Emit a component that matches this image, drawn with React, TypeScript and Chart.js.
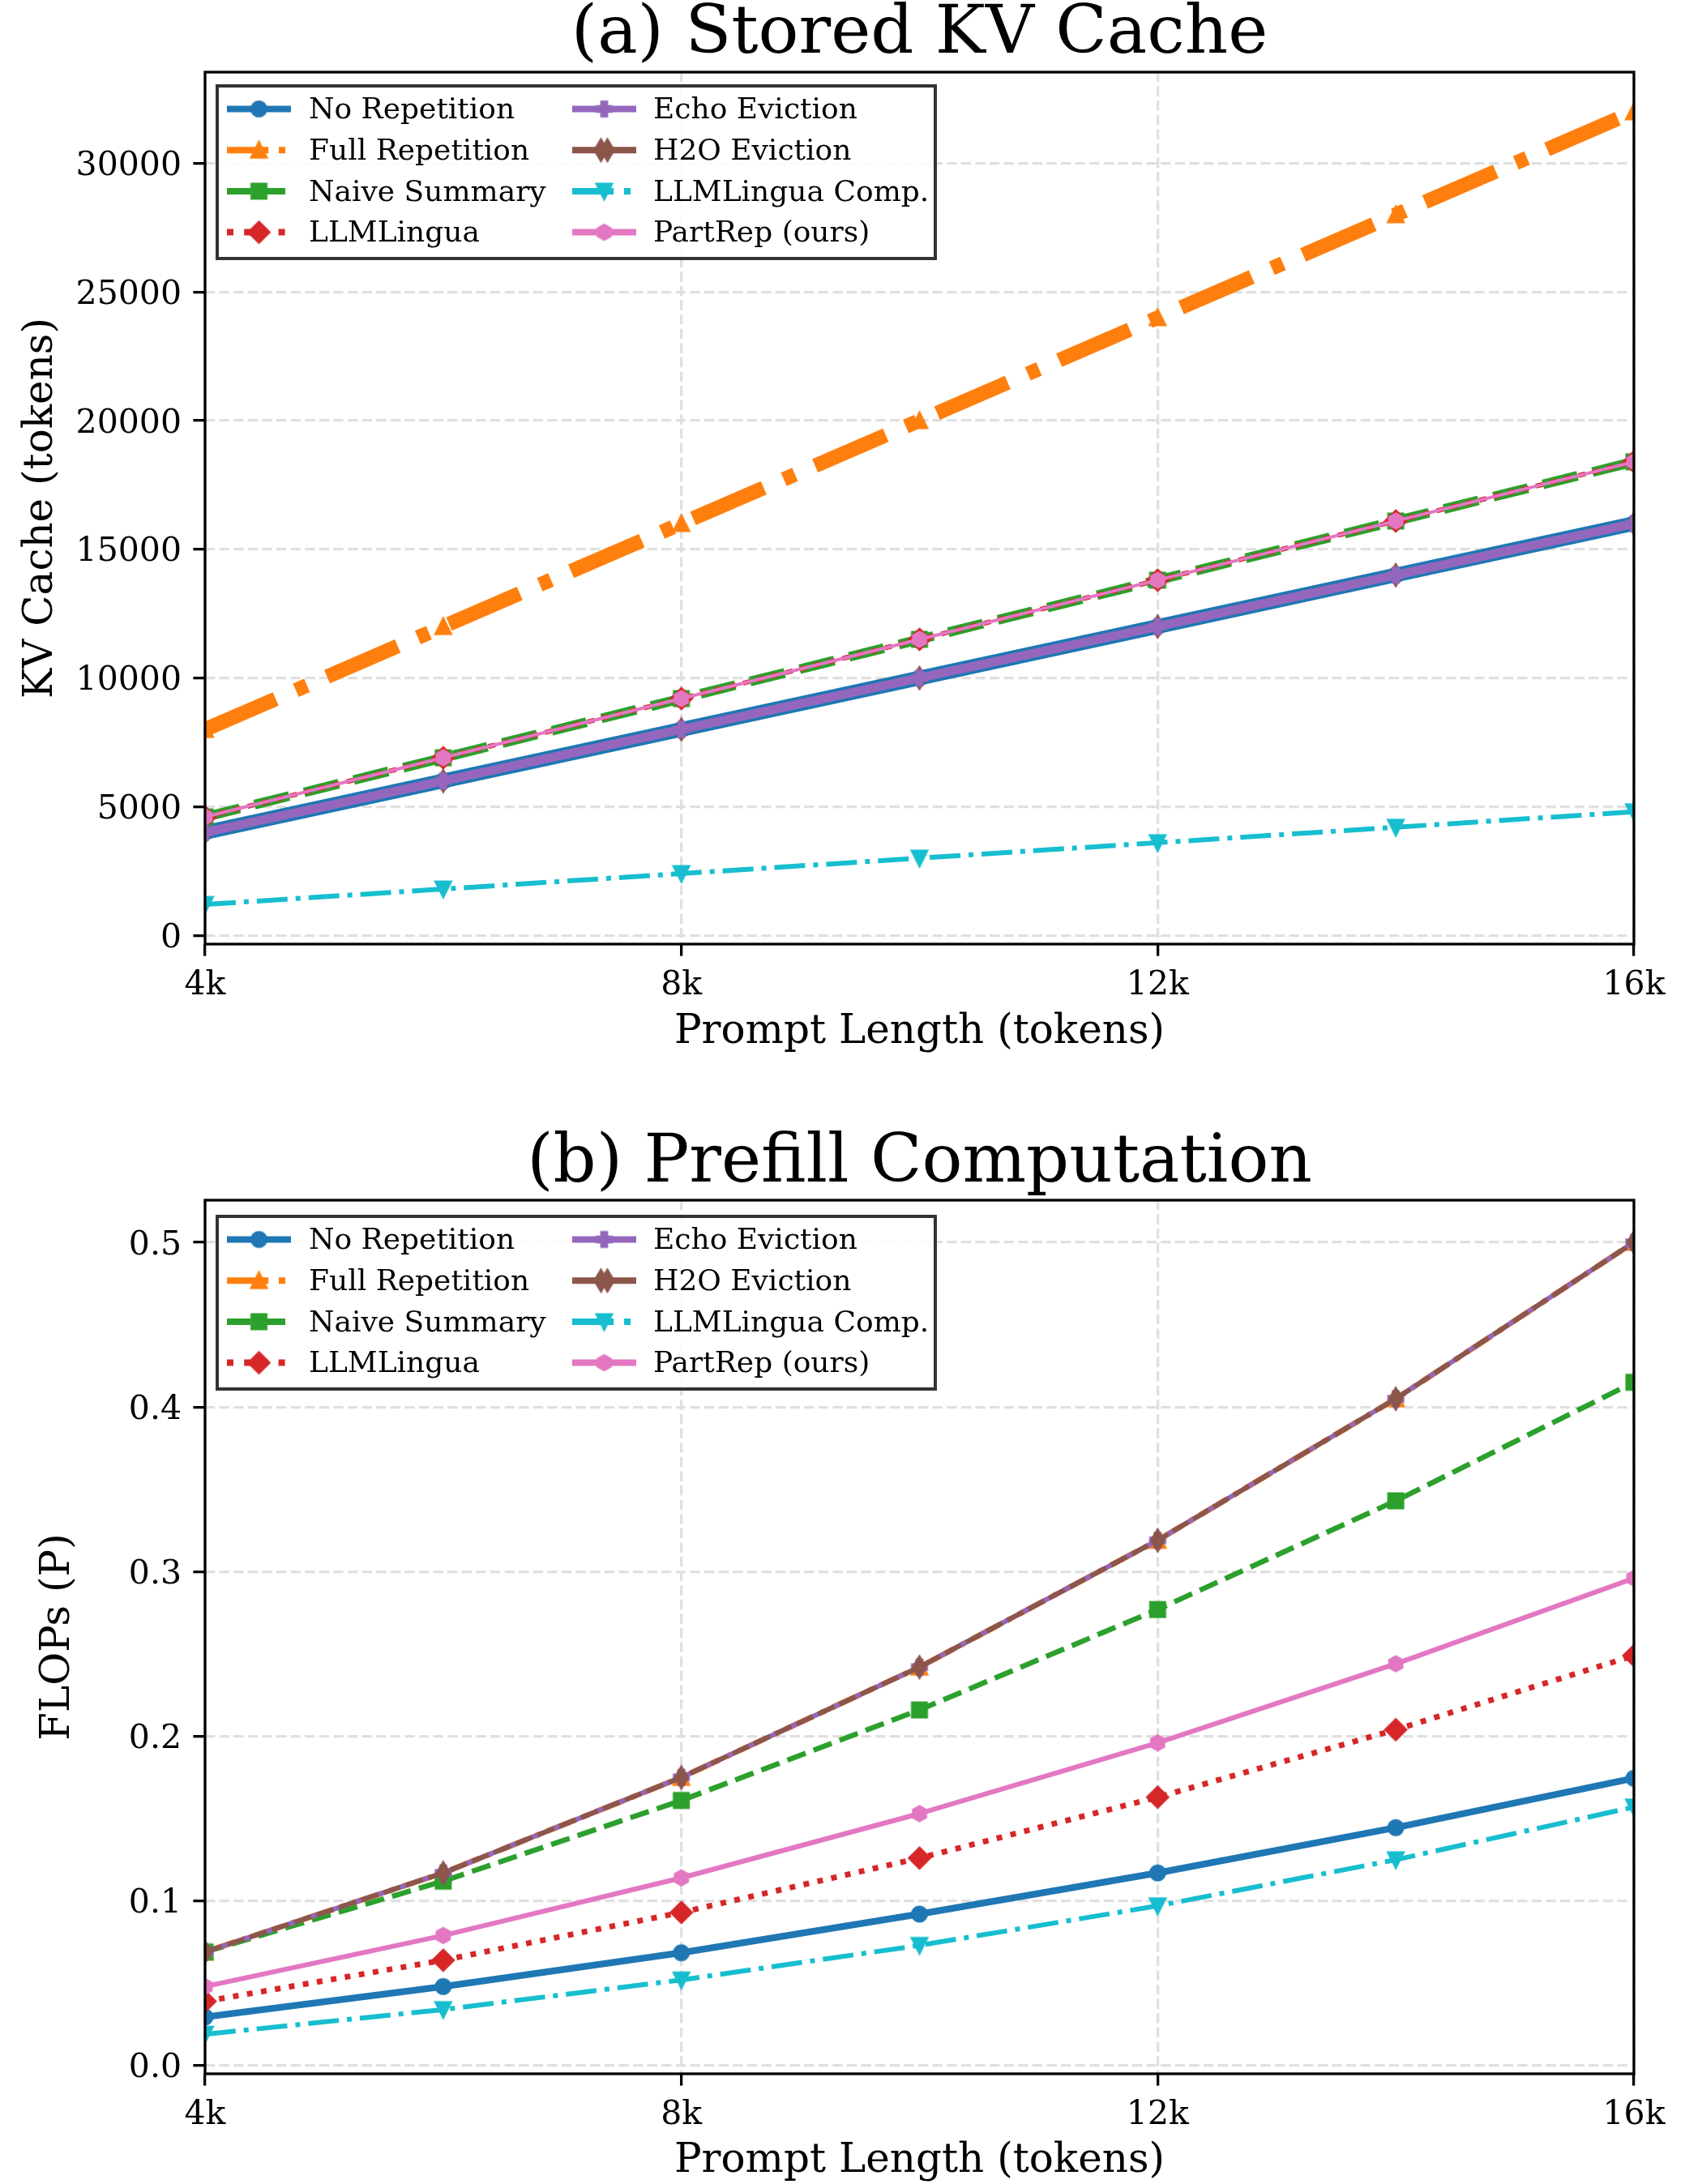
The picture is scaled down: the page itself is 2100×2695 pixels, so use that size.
import React, { useEffect, useRef } from 'react';
import { Chart, registerables } from 'chart.js';

Chart.register(...registerables);

// ---------------- data ----------------
const promptLengths = [4000, 6000, 8000, 10000, 12000, 14000, 16000];
const xTickValues = [4000, 8000, 12000, 16000];
const xTickLabels = ['4k', '8k', '12k', '16k'];

const seriesNames = [
  'No Repetition',
  'Full Repetition',
  'Naive Summary',
  'LLMLingua',
  'Echo Eviction',
  'H2O Eviction',
  'LLMLingua Comp.',
  'PartRep (ours)',
];
const seriesColors = ['#1f77b4', '#ff7f0e', '#2ca02c', '#d62728', '#9467bd', '#8c564b', '#17becf', '#e377c2'];
const seriesMarkers = ['o', '^', 's', 'D', 'P', 'd', 'v', 'h'];
const seriesLegendStyles = ['-', '-.', '--', ':', '-', '-', '-.', '-'];

// (a) Stored KV Cache (tokens)
const kvNoRep = [4000, 6000, 8000, 10000, 12000, 14000, 16000];
const kvFullRep = [8000, 12000, 16000, 20000, 24000, 28000, 32000];
const kvNaive = [4600, 6900, 9200, 11500, 13800, 16100, 18400];
const kvLingua = [4600, 6900, 9200, 11500, 13800, 16100, 18400];
const kvEcho = [4000, 6000, 8000, 10000, 12000, 14000, 16000];
const kvH2O = [4000, 6000, 8000, 10000, 12000, 14000, 16000];
const kvLinguaComp = [1200, 1800, 2400, 3000, 3600, 4200, 4800];
const kvPartRep = [4600, 6900, 9200, 11500, 13800, 16100, 18400];
const kvTickValues = [0, 5000, 10000, 15000, 20000, 25000, 30000];
const kvTickLabels = ['0', '5000', '10000', '15000', '20000', '25000', '30000'];
const kvLimits = [-340, 33540];

// (b) Prefill Computation (PFLOPs)
const flNoRep = [0.0295, 0.048, 0.0685, 0.092, 0.117, 0.1445, 0.1745];
const flFullRep = [0.069, 0.117, 0.175, 0.242, 0.319, 0.405, 0.5];
const flNaive = [0.069, 0.112, 0.161, 0.216, 0.277, 0.343, 0.415];
const flLingua = [0.039, 0.064, 0.093, 0.126, 0.163, 0.204, 0.249];
const flEcho = [0.069, 0.117, 0.175, 0.242, 0.319, 0.405, 0.5];
const flH2O = [0.069, 0.117, 0.175, 0.242, 0.319, 0.405, 0.5];
const flLinguaComp = [0.019, 0.034, 0.052, 0.073, 0.097, 0.125, 0.157];
const flPartRep = [0.048, 0.079, 0.114, 0.153, 0.196, 0.244, 0.296];
const flTickValues = [0, 0.1, 0.2, 0.3, 0.4, 0.5];
const flTickLabels = ['0.0', '0.1', '0.2', '0.3', '0.4', '0.5'];
const flLimits = [-0.005, 0.5256];

// ---------------- styling ----------------
const FONT = "'DejaVu Serif', serif";
const GRID = '#e0e0e0';

type Panel = {
  title: string;
  titleBaseline: number;
  yTitle: string;
  yTitlePad: number;
  data: number[][];
  tickValues: number[];
  tickLabels: string[];
  limits: number[];
  widths: number[];
  dashes: number[][];
  drawOrder: number[];
  canvasH: number;
  areaTop: number;
  areaBottom: number;
  xTitlePadBottom: number;
  legendDy: number;
};

const panelA: Panel = {
  title: '(a) Stored KV Cache',
  titleBaseline: 65,
  yTitle: 'KV Cache (tokens)',
  yTitlePad: 21,
  data: [kvNoRep, kvFullRep, kvNaive, kvLingua, kvEcho, kvH2O, kvLinguaComp, kvPartRep],
  tickValues: kvTickValues,
  tickLabels: kvTickLabels,
  limits: kvLimits,
  widths: [18, 18, 12, 6, 11, 6, 6, 4],
  dashes: [[], [95, 27, 15, 27], [44, 19], [9, 9], [], [], [38, 10, 6, 10], []],
  drawOrder: [0, 1, 5, 2, 3, 4, 6, 7],
  canvasH: 1347,
  areaTop: 89,
  areaBottom: 1165,
  xTitlePadBottom: 43,
  legendDy: 17,
};

const panelB: Panel = {
  title: '(b) Prefill Computation',
  titleBaseline: 111,
  yTitle: 'FLOPs (P)',
  yTitlePad: 42,
  data: [flNoRep, flFullRep, flNaive, flLingua, flEcho, flH2O, flLinguaComp, flPartRep],
  tickValues: flTickValues,
  tickLabels: flTickLabels,
  limits: flLimits,
  widths: [8.3, 7, 6.5, 7, 6, 6, 6, 6],
  dashes: [[], [38, 10, 6, 10], [24, 10.4], [7, 10.5], [], [22, 7], [38, 10, 6, 10], []],
  drawOrder: [0, 1, 2, 3, 4, 5, 6, 7],
  canvasH: 1360,
  areaTop: 134,
  areaBottom: 1212,
  xTitlePadBottom: 10,
  legendDy: 20,
};

function makeMarker(shape: string, color: string, s = 17, edge = 4): HTMLCanvasElement {
  const c = document.createElement('canvas');
  c.width = 48;
  c.height = 48;
  const g = c.getContext('2d') as CanvasRenderingContext2D;
  g.translate(24, 24);
  g.beginPath();
  const h = s / 2;
  if (shape === 'o') {
    g.arc(0, 0, h, 0, Math.PI * 2);
  } else if (shape === 's') {
    g.rect(-h, -h, s, s);
  } else if (shape === '^') {
    g.moveTo(0, -h); g.lineTo(h, h); g.lineTo(-h, h); g.closePath();
  } else if (shape === 'v') {
    g.moveTo(0, h); g.lineTo(h, -h); g.lineTo(-h, -h); g.closePath();
  } else if (shape === 'D') {
    const d = h * Math.SQRT2;
    g.moveTo(0, -d); g.lineTo(d, 0); g.lineTo(0, d); g.lineTo(-d, 0); g.closePath();
  } else if (shape === 'd') {
    const d = h * Math.SQRT2;
    const w = 0.6 * d;
    g.moveTo(0, -d); g.lineTo(w, 0); g.lineTo(0, d); g.lineTo(-w, 0); g.closePath();
  } else if (shape === 'h') {
    for (let k = 0; k < 6; k++) {
      const a = (-90 + 60 * k) * Math.PI / 180;
      const px = h * Math.cos(a), py = h * Math.sin(a);
      if (k === 0) g.moveTo(px, py); else g.lineTo(px, py);
    }
    g.closePath();
  } else if (shape === 'P') {
    const pts = [[-1, -3], [1, -3], [1, -1], [3, -1], [3, 1], [1, 1], [1, 3], [-1, 3], [-1, 1], [-3, 1], [-3, -1], [-1, -1]];
    pts.forEach(([px, py], k) => {
      const X = (px / 6) * s, Y = (py / 6) * s;
      if (k === 0) g.moveTo(X, Y); else g.lineTo(X, Y);
    });
    g.closePath();
  }
  g.fillStyle = color;
  g.fill();
  g.lineWidth = edge;
  g.strokeStyle = color;
  g.lineJoin = 'miter';
  g.stroke();
  return c;
}

function legendDash(style: string, lw: number): number[] {
  if (style === '--') return [3.7 * lw, 1.6 * lw];
  if (style === '-.') return [6.4 * lw, 1.6 * lw, 1 * lw, 1.6 * lw];
  if (style === ':') return [1 * lw, 1.65 * lw];
  return [];
}

function buildConfig(p: Panel, markers: HTMLCanvasElement[]): any {
  const datasets = p.data.map((arr, i) => ({
    label: seriesNames[i],
    data: promptLengths.map((x, j) => ({ x, y: arr[j] })),
    borderColor: seriesColors[i],
    backgroundColor: seriesColors[i],
    borderWidth: p.widths[i],
    borderDash: p.dashes[i],
    borderCapStyle: 'butt',
    borderJoinStyle: 'round',
    pointStyle: markers[i],
    pointRadius: 10,
    pointHoverRadius: 10,
    pointBorderWidth: 0,
    tension: 0,
    fill: false,
    clip: 0,
    order: 100 - p.drawOrder.indexOf(i),
  }));

  const decor = {
    id: 'decor',
    afterDraw(chart: any) {
      const ctx: CanvasRenderingContext2D = chart.ctx;
      const a = chart.chartArea;
      ctx.save();
      // spines
      ctx.setLineDash([]);
      ctx.lineWidth = 3.3;
      ctx.strokeStyle = '#000';
      ctx.strokeRect(a.left, a.top, a.right - a.left, a.bottom - a.top);
      // title
      ctx.fillStyle = '#000';
      ctx.font = `83px ${FONT}`;
      ctx.textAlign = 'center';
      ctx.textBaseline = 'alphabetic';
      ctx.fillText(p.title, (a.left + a.right) / 2, p.titleBaseline);
      // legend
      const L = a.left + 15;
      const T = a.top + p.legendDy;
      const W = 886;
      const H = 213;
      ctx.fillStyle = 'rgba(255,255,255,0.85)';
      ctx.fillRect(L, T, W, H);
      ctx.lineWidth = 4;
      ctx.strokeStyle = '#333333';
      ctx.strokeRect(L, T, W, H);
      for (let i = 0; i < seriesNames.length; i++) {
        const col = Math.floor(i / 4);
        const row = i % 4;
        const y = T + 28.5 + row * 50.7;
        const x0 = L + (col ? 438 : 12);
        const x1 = x0 + 79;
        const lw = 8;
        ctx.beginPath();
        ctx.setLineDash(legendDash(seriesLegendStyles[i], lw));
        ctx.lineDashOffset = 0;
        ctx.lineCap = 'butt';
        ctx.lineWidth = lw;
        ctx.strokeStyle = seriesColors[i];
        ctx.moveTo(x0, y);
        ctx.lineTo(x1, y);
        ctx.stroke();
        ctx.setLineDash([]);
        const m = markers[i];
        const cx = (x0 + x1) / 2;
        if (seriesMarkers[i] === 'd') {
          ctx.drawImage(m, cx - 4 - m.width / 2, y - m.height / 2);
          ctx.drawImage(m, cx + 4 - m.width / 2, y - m.height / 2);
        } else {
          ctx.drawImage(m, cx - m.width / 2, y - m.height / 2);
        }
        ctx.fillStyle = '#000';
        ctx.font = `36px ${FONT}`;
        ctx.textAlign = 'left';
        ctx.textBaseline = 'middle';
        ctx.fillText(seriesNames[i], L + (col ? 538 : 113), y + 2.5);
      }
      ctx.restore();
    },
  };

  const gridCommon = {
    color: GRID,
    lineWidth: 3.3,
    borderDash: [12.3, 5.3],
    drawTicks: true,
    tickLength: 14.6,
    tickColor: '#000',
    tickWidth: 3.3,
    tickBorderDash: [],
  };

  return {
    type: 'line',
    data: { datasets },
    options: {
      responsive: false,
      maintainAspectRatio: false,
      animation: false,
      devicePixelRatio: 1,
      events: [],
      layout: { padding: { left: 0, right: 84, top: p.areaTop, bottom: 0 } },
      plugins: {
        legend: { display: false },
        title: { display: false },
        tooltip: { enabled: false },
      },
      scales: {
        x: {
          type: 'linear',
          min: promptLengths[0],
          max: promptLengths[promptLengths.length - 1],
          bounds: 'data',
          afterBuildTicks: (s: any) => {
            s.ticks = xTickValues.map((v) => ({ value: v }));
          },
          afterFit: (s: any) => {
            s.height = p.canvasH - p.areaBottom;
          },
          ticks: {
            callback: (v: number) => {
              const k = xTickValues.indexOf(v);
              return k >= 0 ? xTickLabels[k] : '';
            },
            font: { family: FONT, size: 41 },
            color: '#000',
            padding: 12,
            autoSkip: false,
            maxRotation: 0,
            minRotation: 0,
            includeBounds: false,
          },
          grid: gridCommon,
          border: { display: false, dash: [12.3, 5.3] },
          title: {
            display: true,
            text: 'Prompt Length (tokens)',
            font: { family: FONT, size: 50 },
            color: '#000',
            padding: { top: 0, bottom: p.xTitlePadBottom },
          },
        },
        y: {
          type: 'linear',
          min: p.limits[0],
          max: p.limits[1],
          bounds: 'data',
          afterBuildTicks: (s: any) => {
            s.ticks = p.tickValues.map((v) => ({ value: v }));
          },
          afterFit: (s: any) => {
            s.width = 253;
          },
          ticks: {
            callback: (v: number) => {
              let k = -1;
              p.tickValues.forEach((t, j) => { if (Math.abs(t - v) < 1e-9) k = j; });
              return k >= 0 ? p.tickLabels[k] : '';
            },
            font: { family: FONT, size: 41 },
            color: '#000',
            padding: 14.4,
            labelOffset: 4,
            autoSkip: false,
            includeBounds: false,
          },
          grid: gridCommon,
          border: { display: false, dash: [12.3, 5.3] },
          title: {
            display: true,
            text: p.yTitle,
            font: { family: FONT, size: 50 },
            color: '#000',
            padding: { top: p.yTitlePad, bottom: 0 },
          },
        },
      },
    },
    plugins: [decor],
  };
}

export default function App() {
  const topRef = useRef<HTMLCanvasElement>(null);
  const botRef = useRef<HTMLCanvasElement>(null);

  useEffect(() => {
    const markers = seriesMarkers.map((m, i) => makeMarker(m, seriesColors[i]));
    const c1 = new Chart(topRef.current as HTMLCanvasElement, buildConfig(panelA, markers));
    const c2 = new Chart(botRef.current as HTMLCanvasElement, buildConfig(panelB, markers));
    return () => {
      c1.destroy();
      c2.destroy();
    };
  }, []);

  return (
    <div style={{ width: 2100, height: 2695, overflow: 'hidden', background: '#fff', position: 'relative' }}>
      <style>{'html,body{margin:0;padding:0;background:#fff;overflow:hidden;}'}</style>
      <canvas
        ref={topRef}
        width={2100}
        height={panelA.canvasH}
        style={{ display: 'block', width: 2100, height: panelA.canvasH }}
      />
      <canvas
        ref={botRef}
        width={2100}
        height={panelB.canvasH}
        style={{ display: 'block', width: 2100, height: panelB.canvasH }}
      />
    </div>
  );
}
